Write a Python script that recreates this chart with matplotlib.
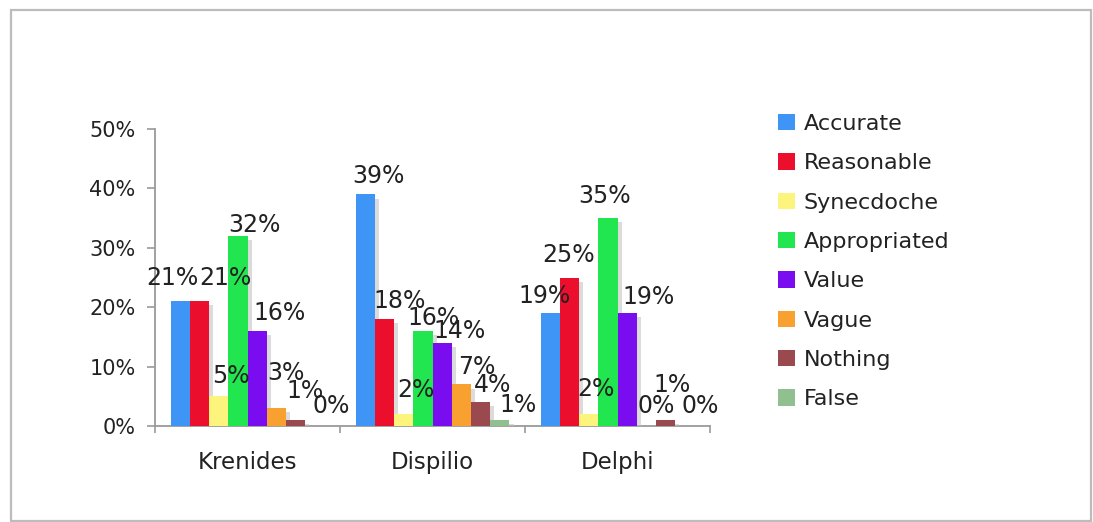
import matplotlib
matplotlib.use("Agg")
import matplotlib.pyplot as plt
import matplotlib.patheffects as pe
from matplotlib.patches import Patch, Rectangle
import numpy as np

# ---- data ----
sites = ["Krenides", "Dispilio", "Delphi"]
series = ["Accurate", "Reasonable", "Synecdoche", "Appropriated",
          "Value", "Vague", "Nothing", "False"]
krenides = [21, 21, 5, 32, 16, 3, 1, 0]
dispilio = [39, 18, 2, 16, 14, 7, 4, 1]
delphi = [19, 25, 2, 35, 19, 0, 1, 0]
y_ticks = [0, 10, 20, 30, 40, 50]

# ---- styles ----
colors = ["#3f95f5", "#ec0f2d", "#fdf47e", "#22e650",
          "#7a0df0", "#f8a030", "#9a4a4f", "#90c090"]
# label nudges (pixels): horizontal shift and baseline height above bar top
label_dx = [[-8, 26, 12, 17, 22, 10, 9, 16],
            [13, 15, 12, 11, 17, 15, 12, 18],
            [-6, -1, 7, -3, 21, 10, 6, 15]]
label_dy = [[16, 16, 13, 4, 11, 28, 22, 13],
            [11, 11, 17, 6, 5, 10, 10, 8],
            [10, 15, 18, 15, 9, 13, 28, 13]]

values = np.array([krenides, dispilio, delphi], dtype=float)

W, H = 1093, 522
fig = plt.figure(figsize=(W / 100, H / 100), dpi=100)
fig.patch.set_facecolor("white")
# outer frame
fig.patches.append(Rectangle((11 / W, 1 / H), 1080 / W, 511 / H,
                             transform=fig.transFigure, fill=False,
                             edgecolor="#bcbcbc", linewidth=1.6))

ax = fig.add_axes([155 / W, 1 - 426 / H, 555 / W, 297 / H])
text_color = "#222222"
axis_color = "#9a9a9a"

bw = 0.104
x = np.arange(len(sites))
shadow = [pe.SimplePatchShadow(offset=(3, -3), shadow_rgbFace="#c4c4c4", alpha=0.6),
          pe.Normal()]
for i, name in enumerate(series):
    xs = x + (i - 3.5) * bw
    bars = ax.bar(xs, values[:, i], width=bw, color=colors[i], label=name,
                  linewidth=0, zorder=3 + i * 0.01)
    for b in bars:
        b.set_path_effects(shadow)
    for g in range(len(sites)):
        v = values[g, i]
        ax.annotate(f"{int(v)}%", xy=(xs[g], v),
                    xytext=(label_dx[g][i] * 0.72, label_dy[g][i] * 0.72),
                    textcoords="offset points", ha="center", va="baseline",
                    fontsize=17, color=text_color, zorder=10,
                    annotation_clip=False)

ax.set_xlim(-0.5, 2.5)
ax.set_ylim(0, 50)
ax.set_yticks(y_ticks)
ax.set_yticklabels([f"{t}%" for t in y_ticks])
ax.set_xticks([-0.5, 0.5, 1.5, 2.5])
ax.set_xticklabels([])
ax.set_xticks(x, minor=True)
ax.set_xticklabels(sites, minor=True)

for s in ["top", "right"]:
    ax.spines[s].set_visible(False)
for s in ["left", "bottom"]:
    ax.spines[s].set_color(axis_color)
    ax.spines[s].set_linewidth(1.3)

ax.tick_params(axis="y", direction="out", length=6, width=1.2, color=axis_color,
               pad=8, labelsize=15, labelcolor=text_color)
ax.tick_params(axis="x", which="major", direction="out", length=5, width=1.2,
               color=axis_color)
ax.tick_params(axis="x", which="minor", length=0, pad=18, labelsize=16.5,
               labelcolor=text_color)
ax.set_facecolor("white")

handles = [Patch(facecolor=c, edgecolor="none") for c in colors]
leg = fig.legend(handles, series, loc="upper left",
                 bbox_to_anchor=(778 / W, 1 - 114 / H),
                 bbox_transform=fig.transFigure, frameon=False,
                 fontsize=16, handlelength=0.75, handleheight=0.75,
                 handletextpad=0.4, labelspacing=0.87, borderpad=0,
                 borderaxespad=0)
for t in leg.get_texts():
    t.set_color(text_color)

fig.savefig("out.png", dpi=100, facecolor="white")
